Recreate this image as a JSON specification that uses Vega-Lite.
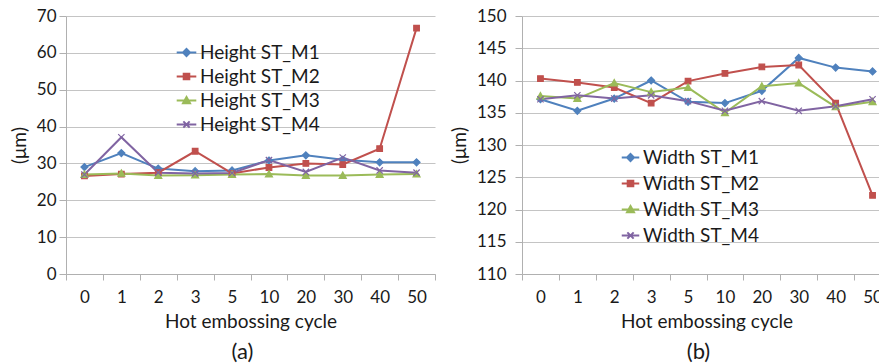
{
  "$schema": "https://vega.github.io/schema/vega-lite/v6.json",
  "padding": {"left": 10, "top": 7, "right": 0, "bottom": 0},
  "background": "white",
  "config": {
    "font": "Lato",
    "view": {"stroke": null},
    "axis": {"labelFont": "Lato", "titleFont": "Lato", "labelFontSize": 17, "titleFontSize": 19, "labelColor": "#1a1a1a", "titleColor": "#1a1a1a", "titleFontWeight": "normal", "domainColor": "#b0b0b0", "tickColor": "#b0b0b0", "gridColor": "#c4c4c4"},
    "legend": {"labelFont": "Lato", "labelFontSize": 19, "labelColor": "#1a1a1a"},
    "title": {"font": "Lato", "fontSize": 22, "fontWeight": "normal", "color": "#1a1a1a", "orient": "bottom", "anchor": "middle", "offset": 11}
  },
  "datasets": {
    "height": [
      {"cycle": "0", "series": "Height ST_M1", "v": 29.0}, {"cycle": "1", "series": "Height ST_M1", "v": 32.8}, {"cycle": "2", "series": "Height ST_M1", "v": 28.6}, {"cycle": "3", "series": "Height ST_M1", "v": 27.9}, {"cycle": "5", "series": "Height ST_M1", "v": 28.1}, {"cycle": "10", "series": "Height ST_M1", "v": 30.8}, {"cycle": "20", "series": "Height ST_M1", "v": 32.2}, {"cycle": "30", "series": "Height ST_M1", "v": 31.0}, {"cycle": "40", "series": "Height ST_M1", "v": 30.3}, {"cycle": "50", "series": "Height ST_M1", "v": 30.3},
      {"cycle": "0", "series": "Height ST_M2", "v": 26.6}, {"cycle": "1", "series": "Height ST_M2", "v": 27.1}, {"cycle": "2", "series": "Height ST_M2", "v": 27.5}, {"cycle": "3", "series": "Height ST_M2", "v": 33.3}, {"cycle": "5", "series": "Height ST_M2", "v": 27.3}, {"cycle": "10", "series": "Height ST_M2", "v": 28.9}, {"cycle": "20", "series": "Height ST_M2", "v": 30.0}, {"cycle": "30", "series": "Height ST_M2", "v": 29.7}, {"cycle": "40", "series": "Height ST_M2", "v": 34.0}, {"cycle": "50", "series": "Height ST_M2", "v": 66.7},
      {"cycle": "0", "series": "Height ST_M3", "v": 27.0}, {"cycle": "1", "series": "Height ST_M3", "v": 27.3}, {"cycle": "2", "series": "Height ST_M3", "v": 26.7}, {"cycle": "3", "series": "Height ST_M3", "v": 26.8}, {"cycle": "5", "series": "Height ST_M3", "v": 27.0}, {"cycle": "10", "series": "Height ST_M3", "v": 27.1}, {"cycle": "20", "series": "Height ST_M3", "v": 26.7}, {"cycle": "30", "series": "Height ST_M3", "v": 26.7}, {"cycle": "40", "series": "Height ST_M3", "v": 27.0}, {"cycle": "50", "series": "Height ST_M3", "v": 27.1},
      {"cycle": "0", "series": "Height ST_M4", "v": 27.0}, {"cycle": "1", "series": "Height ST_M4", "v": 37.1}, {"cycle": "2", "series": "Height ST_M4", "v": 27.5}, {"cycle": "3", "series": "Height ST_M4", "v": 27.3}, {"cycle": "5", "series": "Height ST_M4", "v": 27.4}, {"cycle": "10", "series": "Height ST_M4", "v": 30.9}, {"cycle": "20", "series": "Height ST_M4", "v": 27.7}, {"cycle": "30", "series": "Height ST_M4", "v": 31.6}, {"cycle": "40", "series": "Height ST_M4", "v": 28.1}, {"cycle": "50", "series": "Height ST_M4", "v": 27.5}
    ],
    "width": [
      {"cycle": "0", "series": "Width ST_M1", "v": 137.1}, {"cycle": "1", "series": "Width ST_M1", "v": 135.3}, {"cycle": "2", "series": "Width ST_M1", "v": 137.2}, {"cycle": "3", "series": "Width ST_M1", "v": 140.0}, {"cycle": "5", "series": "Width ST_M1", "v": 136.7}, {"cycle": "10", "series": "Width ST_M1", "v": 136.5}, {"cycle": "20", "series": "Width ST_M1", "v": 138.4}, {"cycle": "30", "series": "Width ST_M1", "v": 143.5}, {"cycle": "40", "series": "Width ST_M1", "v": 142.0}, {"cycle": "50", "series": "Width ST_M1", "v": 141.4},
      {"cycle": "0", "series": "Width ST_M2", "v": 140.3}, {"cycle": "1", "series": "Width ST_M2", "v": 139.7}, {"cycle": "2", "series": "Width ST_M2", "v": 138.9}, {"cycle": "3", "series": "Width ST_M2", "v": 136.5}, {"cycle": "5", "series": "Width ST_M2", "v": 139.9}, {"cycle": "10", "series": "Width ST_M2", "v": 141.1}, {"cycle": "20", "series": "Width ST_M2", "v": 142.1}, {"cycle": "30", "series": "Width ST_M2", "v": 142.4}, {"cycle": "40", "series": "Width ST_M2", "v": 136.5}, {"cycle": "50", "series": "Width ST_M2", "v": 122.2},
      {"cycle": "0", "series": "Width ST_M3", "v": 137.6}, {"cycle": "1", "series": "Width ST_M3", "v": 137.2}, {"cycle": "2", "series": "Width ST_M3", "v": 139.6}, {"cycle": "3", "series": "Width ST_M3", "v": 138.2}, {"cycle": "5", "series": "Width ST_M3", "v": 138.9}, {"cycle": "10", "series": "Width ST_M3", "v": 135.0}, {"cycle": "20", "series": "Width ST_M3", "v": 139.1}, {"cycle": "30", "series": "Width ST_M3", "v": 139.6}, {"cycle": "40", "series": "Width ST_M3", "v": 135.9}, {"cycle": "50", "series": "Width ST_M3", "v": 136.7},
      {"cycle": "0", "series": "Width ST_M4", "v": 137.1}, {"cycle": "1", "series": "Width ST_M4", "v": 137.7}, {"cycle": "2", "series": "Width ST_M4", "v": 137.2}, {"cycle": "3", "series": "Width ST_M4", "v": 137.7}, {"cycle": "5", "series": "Width ST_M4", "v": 136.8}, {"cycle": "10", "series": "Width ST_M4", "v": 135.3}, {"cycle": "20", "series": "Width ST_M4", "v": 136.8}, {"cycle": "30", "series": "Width ST_M4", "v": 135.3}, {"cycle": "40", "series": "Width ST_M4", "v": 136.0}, {"cycle": "50", "series": "Width ST_M4", "v": 137.1}
    ]
  },
  "hconcat": [
    {
      "width": 369,
      "height": 258,
      "title": {"text": "(a)", "dx": -8},
      "data": {"name": "height"},
      "encoding": {
        "x": {"field": "cycle", "type": "nominal", "sort": ["0","1","2","3","5","10","20","30","40","50"],
          "scale": {"paddingInner": 0, "paddingOuter": 0},
          "axis": {"labelAngle": 0, "tickBand": "extent", "tickSize": 6, "labelPadding": 9, "grid": false, "title": "Hot embossing cycle", "titlePadding": 7}},
        "y": {"field": "v", "type": "quantitative", "scale": {"domain": [0, 70], "nice": false, "zero": false},
          "axis": {"values": [0,10,20,30,40,50,60,70], "tickSize": 7, "labelPadding": 3, "title": "(μm)", "titlePadding": 7}},
        "color": {"field": "series", "type": "nominal",
          "scale": {"range": ["#4F81BD", "#C0504D", "#9BBB59", "#8064A2"]},
          "legend": {"title": null, "orient": "none", "legendX": 111, "legendY": 27, "rowPadding": 4, "labelOffset": 4, "symbolSize": 49,
            "encode": {"symbols": {"update": {
              "shape": {"signal": "indexof(datum.value,'M1')>=0 ? 'M-2.8,0L2.8,0M0,-1L1,0L0,1L-1,0Z' : indexof(datum.value,'M2')>=0 ? 'M-2.8,0L2.8,0M-0.8,-0.8L0.8,-0.8L0.8,0.8L-0.8,0.8Z' : indexof(datum.value,'M3')>=0 ? 'M-2.8,0L2.8,0M0,-1L1,0.8L-1,0.8Z' : 'M-2.8,0L2.8,0M-0.9,-0.9L0.9,0.9M-0.9,0.9L0.9,-0.9'"},
              "stroke": {"signal": "indexof(datum.value,'M1')>=0 ? '#4F81BD' : indexof(datum.value,'M2')>=0 ? '#C0504D' : indexof(datum.value,'M3')>=0 ? '#9BBB59' : '#8064A2'"},
              "fill": {"signal": "indexof(datum.value,'M1')>=0 ? '#4F81BD' : indexof(datum.value,'M2')>=0 ? '#C0504D' : indexof(datum.value,'M3')>=0 ? '#9BBB59' : '#8064A2'"},
              "strokeWidth": {"value": 2},
              "opacity": {"value": 1}}}}}}
      },
      "layer": [
        {"mark": {"type": "line", "strokeWidth": 2}},
        {"mark": {"type": "point", "filled": true, "size": 49, "opacity": 1, "strokeWidth": 1.2},
          "encoding": {
            "shape": {"field": "series", "type": "nominal", "legend": null,
              "scale": {"range": ["M0,-1L1,0L0,1L-1,0Z", "M-0.8,-0.8L0.8,-0.8L0.8,0.8L-0.8,0.8Z", "M0,-1L1,0.8L-1,0.8Z", "M-0.9,-0.9L0.9,0.9M-0.9,0.9L0.9,-0.9"]}},
            "stroke": {"field": "series", "type": "nominal", "legend": null,
              "scale": {"range": ["#4F81BD", "#C0504D", "#9BBB59", "#8064A2"]}}
          }}
      ]
    },
    {
      "width": 369,
      "height": 258,
      "title": {"text": "(b)", "dx": -8},
      "data": {"name": "width"},
      "encoding": {
        "x": {"field": "cycle", "type": "nominal", "sort": ["0","1","2","3","5","10","20","30","40","50"],
          "scale": {"paddingInner": 0, "paddingOuter": 0},
          "axis": {"labelAngle": 0, "tickBand": "extent", "tickSize": 6, "labelPadding": 9, "grid": false, "title": "Hot embossing cycle", "titlePadding": 7}},
        "y": {"field": "v", "type": "quantitative", "scale": {"domain": [110, 150], "nice": false, "zero": false},
          "axis": {"values": [110,115,120,125,130,135,140,145,150], "tickSize": 7, "labelPadding": 9, "title": "(μm)", "titlePadding": 7}},
        "color": {"field": "series", "type": "nominal",
          "scale": {"range": ["#4F81BD", "#C0504D", "#9BBB59", "#8064A2"]},
          "legend": {"title": null, "orient": "none", "legendX": 99, "legendY": 132, "rowPadding": 6, "labelOffset": 3, "symbolSize": 49,
            "encode": {"symbols": {"update": {
              "shape": {"signal": "indexof(datum.value,'M1')>=0 ? 'M-2.5,0L2.5,0M0,-1L1,0L0,1L-1,0Z' : indexof(datum.value,'M2')>=0 ? 'M-2.5,0L2.5,0M-0.8,-0.8L0.8,-0.8L0.8,0.8L-0.8,0.8Z' : indexof(datum.value,'M3')>=0 ? 'M-2.5,0L2.5,0M0,-1L1,0.8L-1,0.8Z' : 'M-2.5,0L2.5,0M-0.9,-0.9L0.9,0.9M-0.9,0.9L0.9,-0.9'"},
              "stroke": {"signal": "indexof(datum.value,'M1')>=0 ? '#4F81BD' : indexof(datum.value,'M2')>=0 ? '#C0504D' : indexof(datum.value,'M3')>=0 ? '#9BBB59' : '#8064A2'"},
              "fill": {"signal": "indexof(datum.value,'M1')>=0 ? '#4F81BD' : indexof(datum.value,'M2')>=0 ? '#C0504D' : indexof(datum.value,'M3')>=0 ? '#9BBB59' : '#8064A2'"},
              "strokeWidth": {"value": 2},
              "opacity": {"value": 1}}}}}}
      },
      "layer": [
        {"mark": {"type": "line", "strokeWidth": 2}},
        {"mark": {"type": "point", "filled": true, "size": 49, "opacity": 1, "strokeWidth": 1.2},
          "encoding": {
            "shape": {"field": "series", "type": "nominal", "legend": null,
              "scale": {"range": ["M0,-1L1,0L0,1L-1,0Z", "M-0.8,-0.8L0.8,-0.8L0.8,0.8L-0.8,0.8Z", "M0,-1L1,0.8L-1,0.8Z", "M-0.9,-0.9L0.9,0.9M-0.9,0.9L0.9,-0.9"]}},
            "stroke": {"field": "series", "type": "nominal", "legend": null,
              "scale": {"range": ["#4F81BD", "#C0504D", "#9BBB59", "#8064A2"]}}
          }}
      ]
    }
  ],
  "spacing": 14,
  "resolve": {"scale": {"color": "independent", "shape": "independent", "stroke": "independent"}, "legend": {"color": "independent"}}
}
